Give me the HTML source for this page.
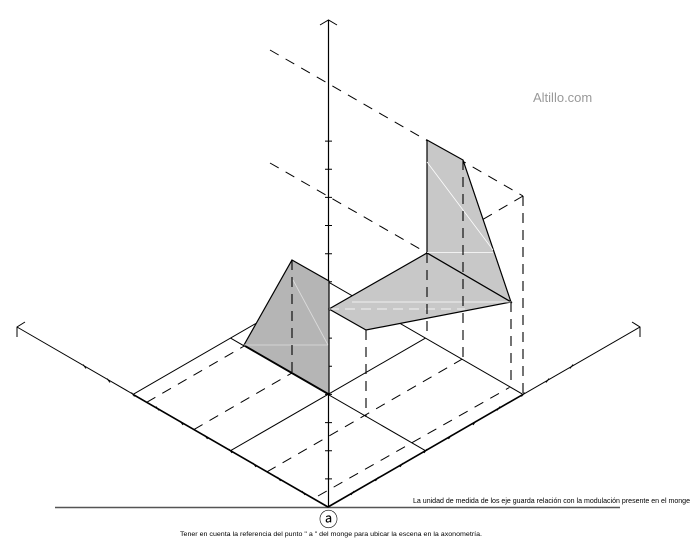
<!DOCTYPE html>
<html><head><meta charset="utf-8"><style>
html,body{margin:0;padding:0;background:#fff;}
svg{display:block;}
</style></head><body>
<svg width="698" height="546" viewBox="0 0 698 546" xmlns="http://www.w3.org/2000/svg">
<rect width="698" height="546" fill="#fff"/>
<line x1="55" y1="507.5" x2="620" y2="507.5" stroke="#555" stroke-width="1.6"/>
<g stroke="#000" fill="none">
<line x1="328.5" y1="507" x2="328.5" y2="20" stroke-width="1.2"/>
<polyline points="320,25 328.5,20 337,25" stroke-width="1"/>
<line x1="328" y1="507" x2="17" y2="327" stroke-width="1"/>
<line x1="328" y1="507" x2="133" y2="394.4" stroke-width="1.6"/>
<polyline points="25,322 17,327 17,337" stroke-width="1"/>
<line x1="328" y1="507" x2="640" y2="327" stroke-width="1"/>
<line x1="328" y1="507" x2="523" y2="394.4" stroke-width="1.6"/>
<polyline points="632,322 640,327 640,337" stroke-width="1"/>
<polyline points="133,394.4 328,281.8 523,394.4" stroke-width="1"/>
<line x1="230.5" y1="450.7" x2="425.5" y2="338.1" stroke-width="1"/>
<line x1="425.5" y1="450.7" x2="230.5" y2="338.1" stroke-width="1"/>
<g stroke-width="1">
<path d="M302,491 l3,4 M277.5,477 l3,4 M253,463 l3,4 M229,449 l3,4 M204.5,435 l3,4 M180,421 l3,4 M156,406.5 l3,4 M131.5,392.5 l3,4 M107,378.5 l3,4 M83,364.5 l3,4"/>
<path d="M354,491 l-3,4 M378.5,477 l-3,4 M403,463 l-3,4 M427,449 l-3,4 M451.5,435 l-3,4 M476,421 l-3,4 M500,406.5 l-3,4 M524.5,392.5 l-3,4 M549,378.5 l-3,4 M573,364.5 l-3,4"/>
<path d="M325,478.9 h7 M325,450.7 h7 M325,422.6 h7 M325,394.4 h7 M325,366.3 h7 M325,338.1 h7 M325,310 h7 M325,281.8 h7 M325,253.7 h7 M325,225.5 h7 M325,197.4 h7 M325,169.2 h7 M325,141.1 h7"/>
</g>
<g stroke-width="1" stroke-dasharray="10,8">
<line x1="318" y1="496" x2="509.4" y2="387.5"/>
<line x1="267" y1="471.8" x2="462" y2="359.2"/>
<line x1="193.9" y1="429.6" x2="291.4" y2="373.3"/>
<line x1="146.7" y1="402.3" x2="244.2" y2="346"/>
<line x1="270" y1="50" x2="523" y2="196"/>
<line x1="523" y1="196" x2="427" y2="252"/>
<line x1="270" y1="163" x2="427" y2="253"/>
</g>
</g>
<polygon points="292,260 329,281 329,394 244,345" fill="#b5b5b5" stroke="#000" stroke-width="1.2"/>
<polygon points="427,140 463,160 511,302 427,253" fill="#c8c8c8" stroke="#000" stroke-width="1.2"/>
<polygon points="427,253 511,302 366,330 329,309" fill="#c8c8c8" stroke="#000" stroke-width="1.2"/>
<g stroke="#fff" stroke-width="0.8" fill="none">
<line x1="427" y1="162" x2="493" y2="250"/>
<line x1="427" y1="252.5" x2="493" y2="252.5"/>
<line x1="352" y1="302" x2="511" y2="302"/>
<line x1="329" y1="309" x2="465" y2="309" stroke-dasharray="10,6"/>
<line x1="293" y1="280" x2="328" y2="345" stroke="#ddd"/>
<line x1="244" y1="345" x2="328" y2="345" stroke="#ddd"/>
</g>
<g stroke="#000" stroke-width="1.1" stroke-dasharray="10,7">
<line x1="292" y1="260" x2="292" y2="375"/>
<line x1="366" y1="330" x2="366" y2="417"/>
<line x1="427" y1="253" x2="427" y2="338"/>
<line x1="463" y1="160" x2="463" y2="360"/>
<line x1="511" y1="302" x2="511" y2="387"/>
<line x1="523" y1="196" x2="523" y2="394"/>
</g>
<text x="533" y="102" font-family="Liberation Sans, sans-serif" font-size="13" fill="#999">Altillo.com</text>
<text x="328.5" y="526" text-anchor="middle" font-family="DejaVu Sans, sans-serif" font-size="19" fill="#000">ⓐ</text>
<text x="690" y="503" text-anchor="end" font-family="Liberation Sans, sans-serif" font-size="7.4" fill="#000" textLength="277" lengthAdjust="spacingAndGlyphs">La unidad de medida de los eje guarda relación con la modulación presente en el monge</text>
<text x="180" y="536" font-family="Liberation Sans, sans-serif" font-size="6.3" fill="#000" textLength="302" lengthAdjust="spacingAndGlyphs">Tener en cuenta la referencia del punto " a " del monge  para ubicar la escena en la axonometría.</text>
</svg>
</body></html>
